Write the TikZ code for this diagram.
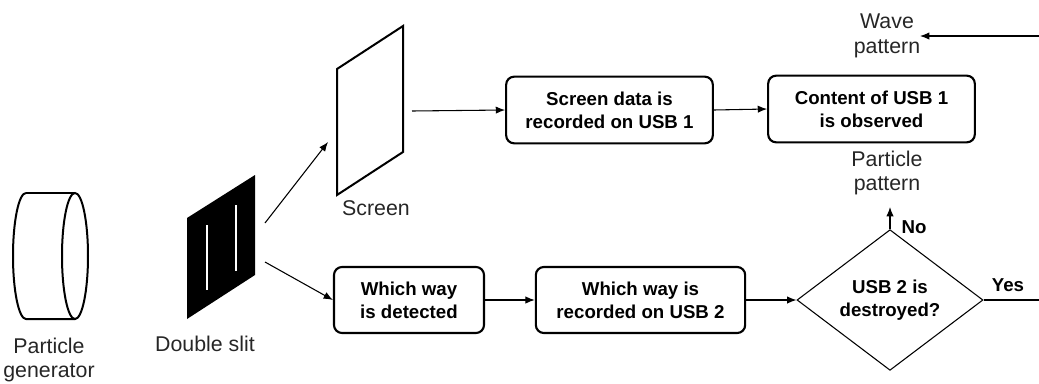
\documentclass[tikz,border=0pt]{standalone}
\usepackage{fontspec}
\setmainfont{Liberation Sans}
\usetikzlibrary{arrows.meta,shapes.geometric}
\begin{document}
\begin{tikzpicture}[x=0.75pt,y=-0.75pt,
  box/.style={draw,line width=1.6pt,rounded corners=6pt,align=center,font=\fontsize{14}{17}\selectfont\bfseries,inner sep=0pt},
  decision/.style={draw,diamond,line width=0.8pt,align=center,font=\fontsize{14}{17}\selectfont\bfseries,inner sep=0pt,minimum width=139.5pt,minimum height=93pt},
  lbl/.style={align=center,font=\fontsize{16}{18.5}\selectfont,text=black!85},
  blbl/.style={font=\fontsize{14}{17}\selectfont\bfseries},
  arr/.style={line width=0.8pt,-{Latex[length=7pt,width=5.5pt]}},
  ln/.style={line width=0.8pt},
  outl/.style={line width=1.5pt}]
\useasboundingbox (0,0) rectangle (1039,383);
% particle generator
\draw[outl] (26,193) arc[start angle=90,end angle=270,x radius=9.75pt,y radius=47.25pt] -- (75,319);
\draw[outl] (26,193) -- (75,193);
\draw[outl] (75,256) ellipse[x radius=9.75pt,y radius=47.25pt];
\node[lbl] (gen) at (49,360) {Particle\\generator};
% double slit
\fill (187,218) -- (255,175) -- (255,275) -- (187,319) -- cycle;
\draw[white,line width=1.6pt] (207,225) -- (207,290);
\draw[white,line width=1.6pt] (236,205) -- (236,271);
\node[lbl] (slit) at (205,344) {Double slit};
\coordinate (s1) at (265,223);
\coordinate (s2) at (265,262);
% screen
\draw[outl] (337,69) -- (403,26) -- (403,152) -- (337,195) -- cycle;
\node[lbl] (screen) at (376,208) {Screen};
\coordinate (scrin) at (328,142);
\coordinate (scrout) at (412,111);
% boxes
\node[box,minimum width=155pt,minimum height=50pt] (b1) at (609.5,110) {Screen data is\\recorded on USB 1};
\node[box,minimum width=155pt,minimum height=50pt] (b2) at (871.5,109) {Content of USB 1\\is observed};
\node[box,minimum width=112.5pt,minimum height=49.5pt] (b3) at (409,300) {Which way\\is detected};
\node[box,minimum width=157pt,minimum height=49.5pt] (b4) at (640.5,300) {Which way is\\recorded on USB 2};
\node[decision] (d) at (890,300) {USB 2 is\\destroyed?};
% labels
\node[lbl] (wave) at (887,36) {Wave\\pattern};
\node[lbl] (pp) at (887,173) {Particle\\pattern};
\node[blbl] (no) at (914,227) {No};
\node[blbl] (yes) at (1008,285) {Yes};
\coordinate (noend) at (890,207);
\coordinate (c1) at (1042,300);
\coordinate (c2) at (1042,36);
\coordinate (waveend) at (920,36);
% connectors
\draw[arr] (s1) -- (scrin);
\draw[arr] (s2) -- (b3.west);
\draw[arr] (scrout) -- (b1.west);
\draw[arr] (b1.east) -- (b2.west);
\draw[arr] (b3.east) -- (b4.west);
\draw[arr] (b4.east) -- (d.west);
\draw[arr] (d.north) -- (noend);
\draw[ln] (d.east) -- (c1) -- (c2);
\draw[arr] (c2) -- (waveend);
\end{tikzpicture}
\end{document}
